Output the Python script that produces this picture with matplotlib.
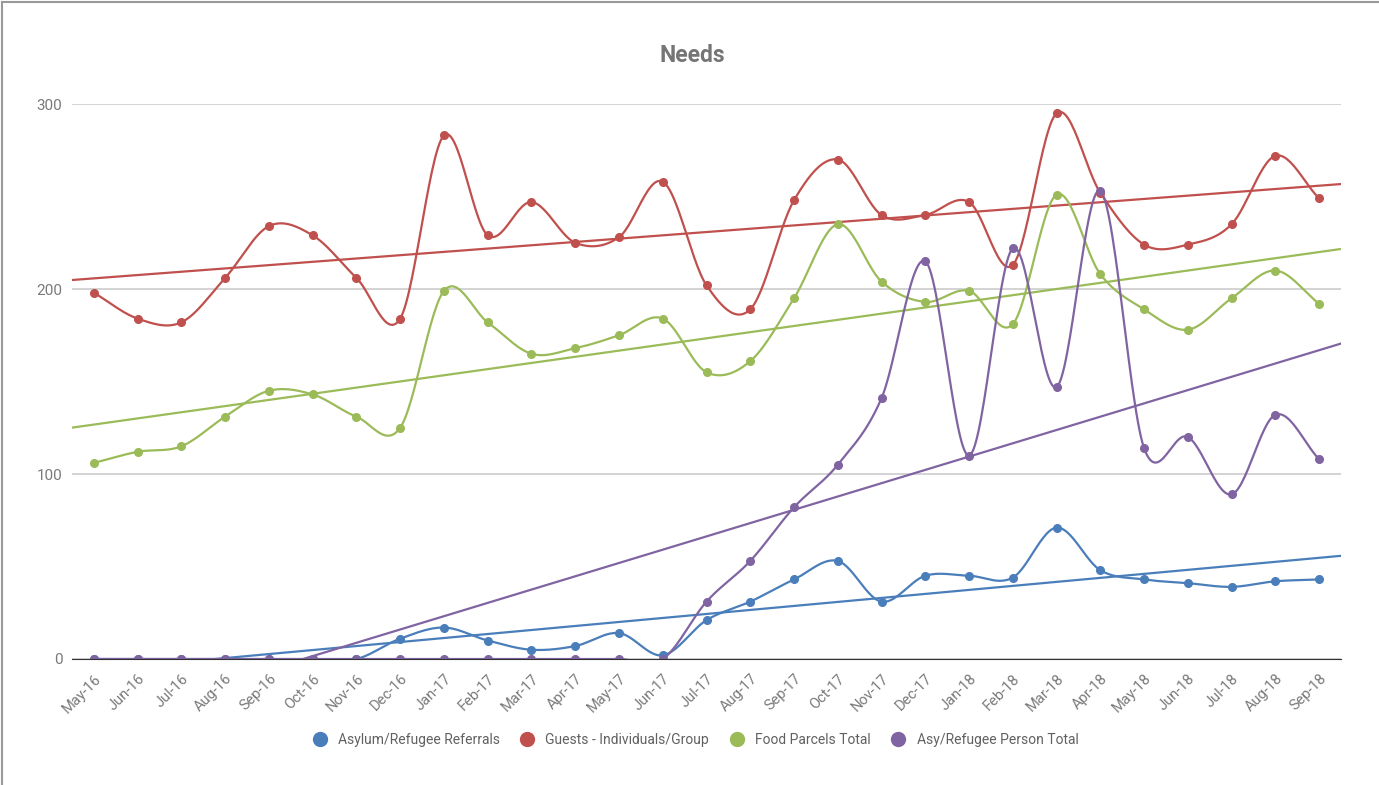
import numpy as np
import matplotlib.pyplot as plt
from matplotlib.lines import Line2D

plt.rcParams['font.family'] = ['Roboto', 'DejaVu Sans']

months = ["May-16", "Jun-16", "Jul-16", "Aug-16", "Sep-16", "Oct-16", "Nov-16", "Dec-16",
          "Jan-17", "Feb-17", "Mar-17", "Apr-17", "May-17", "Jun-17", "Jul-17", "Aug-17",
          "Sep-17", "Oct-17", "Nov-17", "Dec-17", "Jan-18", "Feb-18", "Mar-18", "Apr-18",
          "May-18", "Jun-18", "Jul-18", "Aug-18", "Sep-18"]

asylum = [0, 0, 0, 0, 0, 0, 0, 11, 17, 10, 5, 7, 14, 2, 21, 31, 43, 53, 31, 45, 45, 44,
          71, 48, 43, 41, 39, 42, 43]
guests = [198, 184, 182, 206, 234, 229, 206, 184, 283, 229, 247, 225, 228, 258, 202, 189,
          248, 270, 240, 240, 247, 213, 295, 252, 224, 224, 235, 272, 249]
food = [106, 112, 115, 131, 145, 143, 131, 125, 199, 182, 165, 168, 175, 184, 155, 161,
        195, 235, 204, 193, 199, 181, 251, 208, 189, 178, 195, 210, 192]
person = [0, 0, 0, 0, 0, 0, 0, 0, 0, 0, 0, 0, 0, 0, 31, 53, 82, 105, 141, 215, 110, 222,
          147, 253, 114, 120, 89, 132, 108]

series = [("Asylum/Refugee Referrals", asylum, "#4a7ebb"),
          ("Guests - Individuals/Group", guests, "#c0504d"),
          ("Food Parcels Total", food, "#9bbb59"),
          ("Asy/Refugee Person Total", person, "#8064a2")]


def smooth(y, n=30):
    # catmull-rom style curve through the points
    y = np.asarray(y, float)
    m = np.zeros_like(y)
    m[1:-1] = (y[2:] - y[:-2]) / 2
    m[0] = y[1] - y[0]
    m[-1] = y[-1] - y[-2]
    xs, ys = [], []
    for i in range(len(y) - 1):
        t = np.linspace(0, 1, n)
        h00 = 2*t**3 - 3*t**2 + 1
        h10 = t**3 - 2*t**2 + t
        h01 = -2*t**3 + 3*t**2
        h11 = t**3 - t**2
        xs.append(i + t)
        ys.append(h00*y[i] + h10*m[i] + h01*y[i+1] + h11*m[i+1])
    return np.concatenate(xs), np.concatenate(ys)


fig = plt.figure(figsize=(13.79, 7.85), dpi=100)
ax = fig.add_axes([72/1379, 1 - 659/785, (1341-72)/1379, (659-104)/785])

x = np.arange(len(months))
xt = np.array([-0.5, 28.5])
for name, vals, col in series:
    sx, sy = smooth(vals)
    ax.plot(sx, sy, color=col, lw=1.6, zorder=3)
    ax.plot(x, vals, 'o', color=col, ms=5.5, zorder=4)
    k, b = np.polyfit(x, vals, 1)
    ax.plot(xt, k*xt + b, color=col, lw=1.6, zorder=2)

ax.set_xlim(-0.5, 28.5)
ax.set_ylim(0, 300)
ax.set_yticks([0, 100, 200, 300])
ax.set_xticks(x)
ax.set_xticklabels(months, rotation=45, ha='right', rotation_mode='anchor')
ax.tick_params(length=0, labelsize=10.5, colors='#444444', labelcolor='#7a7a7a')
ax.tick_params(axis='x', pad=9)
ax.tick_params(axis='y', pad=7, labelsize=11)
ax.grid(axis='y', color='#cccccc', lw=1.2)
ax.set_axisbelow(True)
for s in ['top', 'right', 'left']:
    ax.spines[s].set_visible(False)
ax.spines['bottom'].set_color('#333333')
ax.spines['bottom'].set_zorder(5)

fig.text(692/1379, 1 - 56/785, "Needs", ha='center', va='center',
         fontsize=16.5, fontweight='bold', color='#757575')

handles = [Line2D([], [], marker='o', ls='', color=c, ms=10) for _, _, c in series]
fig.legend(handles, [n for n, _, _ in series], loc='center', ncol=4,
           bbox_to_anchor=(692/1379, 1 - 740/785), frameon=False, fontsize=10,
           labelcolor='#616161', handletextpad=0.3, columnspacing=1.0)

# outer frame on top/left
fig.add_artist(Line2D([0.0015, 0.0015], [0, 0.998], color='#999999', lw=1.5))
fig.add_artist(Line2D([0.0015, 1], [0.998, 0.998], color='#999999', lw=1.5))

plt.savefig("out.png", dpi=100)
